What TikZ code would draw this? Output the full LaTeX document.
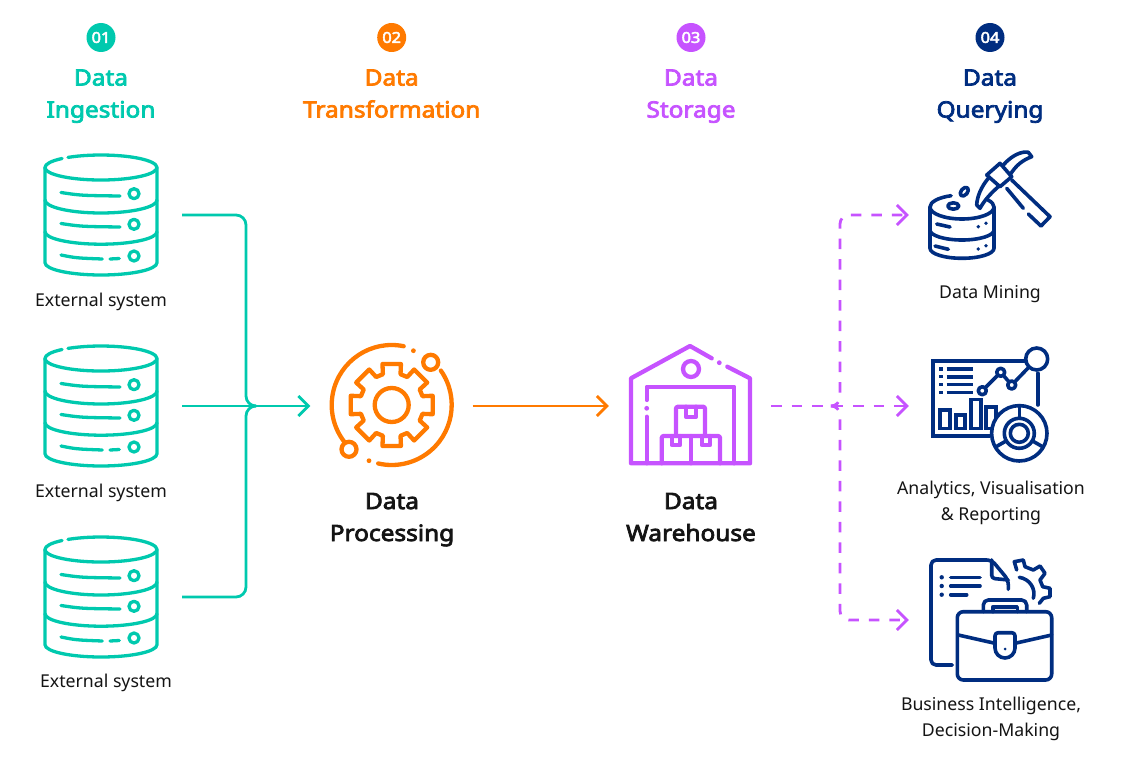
\documentclass[tikz,border=0pt]{standalone}
\usepackage{fontspec}
\setmainfont{Noto Sans}
\newfontfamily\headfont{Noto Sans}[FakeBold=3.4,FakeStretch=1.09]
\usetikzlibrary{arrows.meta}

\definecolor{dteal}{HTML}{00C9AE}
\definecolor{dorange}{HTML}{FF7A00}
\definecolor{dviolet}{HTML}{C653FF}
\definecolor{dnavy}{HTML}{002D80}
\definecolor{dblack}{HTML}{141414}

\tikzset{
  every pic/.style={line cap=round,line join=round},
  slim/.style={line width=3.3pt},
  medium/.style={line width=3.6pt},
  heavy/.style={line width=4.3pt},
  iconbox/.style={minimum width=162pt,minimum height=120pt,inner sep=0pt},
  badge/.style={circle,minimum size=29pt,inner sep=0pt,text=white,font=\fontsize{15}{15}\selectfont\headfont},
  heading/.style={align=center,inner sep=0pt,text depth=6pt,font=\fontsize{22.4}{32}\selectfont\headfont},
  caption/.style={align=center,inner sep=0pt,text depth=5pt,text=dblack,font=\fontsize{17.7}{26}\selectfont},
  flow/.style={line width=2.8pt,-{Straight Barb[length=10pt,width=20pt]}},
  dashflow/.style={flow,dviolet,dash pattern=on 10.5pt off 10pt},
  dbicon/.pic={
    \draw (-56,-47.5) arc[start angle=180,end angle=226,x radius=56,y radius=12.5];
    \draw (-33,-57.6) arc[start angle=234,end angle=540,x radius=56,y radius=12.5];
    \draw (-56,-47.5) -- (-56,47.7) arc[start angle=180,end angle=0,x radius=56,y radius=12.3] -- (56,-47.5);
    \draw (-56,-15) arc[start angle=180,end angle=0,x radius=56,y radius=13];
    \draw (-56,16.7) arc[start angle=180,end angle=0,x radius=56,y radius=12.5];
    \draw (33,-21.3) circle[radius=5];
    \draw (33,9.3) circle[radius=5];
    \draw (33,41) circle[radius=5];
    \draw (-40,-22.5) .. controls (-20,-19.5) .. (19,-19);
    \draw (-40,8.5) .. controls (-20,11.5) .. (19,12);
    \draw (-40,40) .. controls (-25,43) .. (1.3,44);
    \draw (9,44) -- (18.3,43.5);
  },
  gearicon/.pic={
    \draw (0,0) circle[radius=17];
    \draw (-16:32) \foreach \a in {0,45,...,315} {
      -- ({\a-16}:32) -- ({\a-12.7}:42) -- ({\a+12.7}:42) -- ({\a+16}:32)
    } -- cycle;
    \draw (281.5:60) arc[start angle=281.5,end angle=142,radius=60];
    \draw (-35:60) arc[start angle=-35,end angle=103,radius=60];
    \draw[fill=white] (39,-42.7) circle[radius=7.5];
    \draw[fill=white] (-42.7,44.3) circle[radius=7.5];
    \fill (21.7,-54.3) circle[radius=2.4];
    \fill (-22.7,55.7) circle[radius=2.4];
  },
  wareicon/.pic={
    \draw (20.7,-46.7) -- (-1,-59) -- (-60,-26.7) -- (-60,58.3) -- (59,58.3) -- (59,-26.7) -- (36.3,-38.3);
    \fill (28.3,-42.3) circle[radius=2.4];
    \draw (0,-36) circle[radius=8];
    \draw (-44.3,58.3) -- (-44.3,11.7);
    \fill (-44.3,3.3) circle[radius=2.4];
    \draw (-44.3,-5) -- (-44.3,-18.3) -- (43.3,-18.3) -- (43.3,58.3);
    \draw[rounded corners=2] (-15,31) -- (-15,1.7) -- (14,1.7) -- (14,31);
    \draw (-5.3,1.7) -- (-5.3,11.7) -- (5,11.7) -- (5,1.7);
    \draw[rounded corners=2] (-29.3,58.3) -- (-29.3,31) -- (29,31) -- (29,58.3);
    \draw (0,31) -- (0,58.3);
    \draw (-19.3,31) -- (-19.3,40) -- (-11,40) -- (-11,31);
    \draw (10.7,31) -- (10.7,40) -- (19,40) -- (19,31);
  },
  mineicon/.pic={
    \draw (-60,0) arc[start angle=180,end angle=250,x radius=32,y radius=12];
    \draw (4,0) arc[start angle=0,end angle=180,x radius=32,y radius=12];
    \draw (4,0) arc[start angle=360,end angle=325,x radius=32,y radius=12];
    \draw (-60,0) -- (-60,41.3) arc[start angle=180,end angle=0,x radius=32,y radius=10] -- (4,0);
    \draw (-60,23) arc[start angle=180,end angle=0,x radius=32,y radius=10];
    \draw (-36.7,-1) ellipse[x radius=5.5,y radius=3.2];
    \draw[rotate around={50:(-25.7,-15.3)}] (-25.7,-15.3) ellipse[x radius=5,y radius=3.2];
    \draw (-53.3,17) -- (-40,20);
    \draw (-55,39) -- (-41.7,42.3);
    \fill (-11.7,19.7) circle[radius=1.9];
    \fill (-4,16.3) circle[radius=1.9];
    \fill (-11.7,42) circle[radius=1.9];
    \fill (-4,38.7) circle[radius=1.9];
    \draw[fill=white] (-3.3,-32) -- (10,-43.7) -- (21.7,-30.3) -- (10,-20.3) -- cycle;
    \draw (13.3,-42) .. controls (22,-52) and (32,-56) .. (38.3,-54.7) -- (41.7,-50.3) .. controls (33,-47) and (26,-42) .. (20,-32);
    \draw (-1.7,-28.7) .. controls (-9,-20) and (-13,-10) .. (-13.3,-2) -- (-10,1.3) .. controls (-6,-6) and (0,-13) .. (8.3,-20.3);
    \draw (21.7,-27) -- (60,9.7) -- (51,19) -- (38.3,7);
    \draw (33.3,1.3) -- (16.7,-18.7);
  },
  charticon/.pic={
    \draw[line cap=butt,line join=miter] (35,-44.3) -- (-57.3,-44.3) -- (-57.3,30.7) -- (0,30.7);
    \draw (47.7,-31.7) -- (47.7,0);
    \foreach \y in {-36,-28.3,-20.7,-12.7} {
      \fill (-51,\y-1.7) rectangle (-46.7,\y+1.7);
      \draw[line cap=butt] (-43.3,\y) -- (-16.7,\y);
    }
    \draw (-7.7,-14.3) -- (10.7,-32.7) -- (21.7,-20) -- (46.7,-46);
    \draw[fill=white] (-7.7,-14.3) circle[radius=4];
    \draw[fill=white] (10.7,-32.7) circle[radius=4];
    \draw[fill=white] (21.7,-20) circle[radius=4];
    \draw[fill=white] (46.7,-46) circle[radius=11];
    \draw[line join=miter] (-50,5) rectangle (-40,23.3);
    \draw[line join=miter] (-34,10) rectangle (-25,23.3);
    \draw[line join=miter] (-19,-5.7) rectangle (-9.3,23.3);
    \draw[line join=miter] (-4,1.7) rectangle (6,23.3);
    \draw[fill=white] (29.3,28.3) circle[radius=27.7];
    \draw (29.3,28.3) circle[radius=15];
    \draw (29.3,28.3) circle[radius=9];
    \draw (270:15) ++(29.3,28.3) -- ++(270:12.7);
    \draw (150:15) ++(29.3,28.3) -- ++(150:12.7);
    \draw (30:15) ++(29.3,28.3) -- ++(30:12.7);
  },
  caseicon/.pic={
    \draw[rounded corners=5] (-37.7,45) -- (-59,45) -- (-59,-60) -- (1.7,-60) -- (18.3,-40) -- (18.3,-30.7);
    \draw[rounded corners=3] (1.7,-60) -- (1.7,-41.7) -- (18.3,-40);
    \fill (-48.3,-42.7) circle[radius=2.2];
    \fill (-48.3,-34) circle[radius=2.2];
    \fill (-48.3,-25.3) circle[radius=2.2];
    \draw (-39.3,-42.7) -- (-10,-42.7);
    \draw (-39.3,-34) -- (-10,-34);
    \draw (-39.3,-25.3) -- (-23.3,-25.3);
    \draw (26.7,-50) -- (24.3,-58.3) -- (33.3,-60) -- (35,-53.3) -- (43.3,-50) -- (50,-54) -- (55,-46.7) -- (50,-40) -- (52.7,-33.3) -- (60,-31.7) -- (60,-23.3) -- (53.3,-21.7) -- (49.3,-16.7);
    \draw (29.3,-42.7) .. controls (40,-41) and (46,-31) .. (43.3,-21.7);
    \draw[rounded corners=5] (-6.7,-8.3) -- (-6.7,-20) -- (36.7,-20) -- (36.7,-8.3);
    \draw (2.7,-8.3) -- (2.7,-13.3) -- (27.3,-13.3) -- (27.3,-8.3);
    \draw[rounded corners=6] (-32.7,-8.3) rectangle (61.7,60);
    \draw (-31.7,15) -- (5,23.3);
    \draw (25,23.3) -- (61.7,15);
    \draw[rounded corners=3] (5,28) -- (5,12.7) -- (25,12.7) -- (25,28);
    \draw (5,28) arc[start angle=180,end angle=0,radius=10];
    \fill (15,29) circle[radius=1.5];
  },
}

\begin{document}
\begin{tikzpicture}[x=1pt,y=-1pt]
  \useasboundingbox (0,0) rectangle (1121,757);

  % step headers
  \node[badge,fill=dteal] (num1) at (101,37.5) {01};
  \node[badge,fill=dorange] (num2) at (391.7,37.5) {02};
  \node[badge,fill=dviolet] (num3) at (691,37.5) {03};
  \node[badge,fill=dnavy] (num4) at (990,37.5) {04};
  \node[heading,text=dteal] (head1) at (101,96.5) {Data\\Ingestion};
  \node[heading,text=dorange] (head2) at (391.7,96.5) {Data\\Transformation};
  \node[heading,text=dviolet] (head3) at (691,96.5) {Data\\Storage};
  \node[heading,text=dnavy] (head4) at (990,96.5) {Data\\Querying};

  % icon slots, the connectors end on these
  \node[iconbox] (ext1) at (101,215) {};
  \node[iconbox] (ext2) at (101,406) {};
  \node[iconbox] (ext3) at (101,597) {};
  \node[iconbox] (proc) at (391.5,406) {};
  \node[iconbox] (ware) at (690,406) {};
  \node[iconbox] (mine) at (990,215) {};
  \node[iconbox] (report) at (990,406) {};
  \node[iconbox] (biz) at (990,620) {};

  \pic[color=dteal,slim] at (ext1.center) {dbicon};
  \pic[color=dteal,slim] at (ext2.center) {dbicon};
  \pic[color=dteal,slim] at (ext3.center) {dbicon};
  \pic[color=dorange,heavy] at (391.7,405) {gearicon};
  \pic[color=dviolet,heavy] at (691,405) {wareicon};
  \pic[color=dnavy,medium] at (990,207) {mineicon};
  \pic[color=dnavy,medium] at (990,405) {charticon};
  \pic[color=dnavy,medium] at (990,620) {caseicon};

  \node[caption] (lab1) at (101,302) {External system};
  \node[caption] (lab2) at (101,493) {External system};
  \node[caption] (lab3) at (106,683) {External system};
  \node[heading,text=dblack] (lab4) at (392,520) {Data\\Processing};
  \node[heading,text=dblack] (lab5) at (691,520) {Data\\Warehouse};
  \node[caption] (lab6) at (990,294) {Data Mining};
  \node[caption] (lab7) at (991,503) {Analytics, Visualisation\\\& Reporting};
  \node[caption] (lab8) at (991,719) {Business Intelligence,\\Decision-Making};

  \coordinate (merge) at (246,406);
  \coordinate (split) at (840,406);
  \coordinate (splittip) at (833,406);

  \draw[flow,dteal] (ext2.east) -- (proc.west);
  \draw[line width=2.8pt,dteal,rounded corners=10] (ext1.east) -| (merge) -- (256,406);
  \draw[line width=2.8pt,dteal,rounded corners=10] (ext3.east) -| (merge) -- (256,406);
  \draw[flow,dorange] (proc.east) -- (ware.west);
  \draw[dashflow] (ware.east) -- (report.west);
  \draw[dashflow,rounded corners=9] (splittip) -- (split) |- (mine.west);
  \draw[dashflow,rounded corners=9] (splittip) -- (split) |- (biz.west);
\end{tikzpicture}
\end{document}
